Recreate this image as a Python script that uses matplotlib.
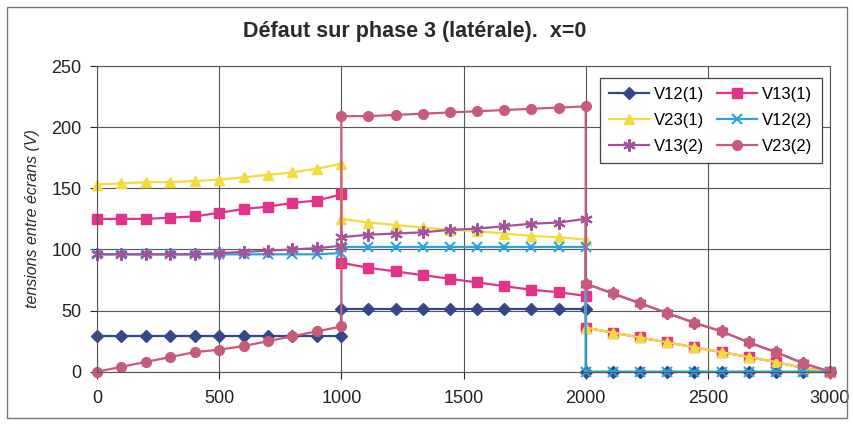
import matplotlib.pyplot as plt
from matplotlib.patches import Rectangle

# x positions: three segments, jump at 1000 and 2000
x = [0, 100, 200, 300, 400, 500, 600, 700, 800, 900, 1000,
     1000, 1111, 1222, 1333, 1444, 1556, 1667, 1778, 1889, 2000,
     2000, 2111, 2222, 2333, 2444, 2556, 2667, 2778, 2889, 3000]

v12_1 = [29, 29, 29, 29, 29, 29, 29, 29, 29, 29, 29,
         51, 51, 51, 51, 51, 51, 51, 51, 51, 51,
         0, 0, 0, 0, 0, 0, 0, 0, 0, 0]
v13_1 = [125, 125, 125, 126, 127, 130, 133, 135, 138, 140, 145,
         89, 85, 82, 79, 76, 73, 70, 67, 65, 62,
         36, 32, 28, 24, 20, 16, 12, 8, 3, 0]
v23_1 = [153, 154, 155, 155, 156, 157, 159, 161, 163, 166, 170,
         125, 122, 120, 118, 116, 115, 113, 111, 110, 108,
         36, 32, 28, 24, 20, 16, 12, 8, 3, 0]
v12_2 = [96, 96, 96, 96, 96, 96, 96, 96, 96, 96, 97,
         102, 102, 102, 102, 102, 102, 102, 102, 102, 102,
         0, 0, 0, 0, 0, 0, 0, 0, 0, 0]
v13_2 = [96, 96, 96, 96, 96, 97, 98, 99, 100, 101, 103,
         110, 112, 113, 114, 116, 117, 119, 121, 122, 125,
         72, 64, 56, 48, 40, 33, 24, 16, 7, 0]
v23_2 = [0, 4, 8, 12, 16, 18, 21, 25, 29, 33, 37,
         209, 209, 210, 211, 212, 213, 214, 215, 216, 217,
         72, 64, 56, 48, 40, 33, 24, 16, 7, 0]

ASTER = (6, 2, 0)  # excel-like asterisk
series = [
    ("V12(1)", v12_1, "#34468c", "D", 6),
    ("V13(1)", v13_1, "#e33388", "s", 7),
    ("V23(1)", v23_1, "#f2dc3c", "^", 7),
    ("V12(2)", v12_2, "#2ca3dc", "x", 7),
    ("V13(2)", v13_2, "#a4529c", ASTER, 9),
    ("V23(2)", v23_2, "#c95a7c", "o", 7),
]

plt.rcParams['font.family'] = ["Liberation Sans", "DejaVu Sans"]

fig = plt.figure(figsize=(8.54, 4.25), dpi=100)
fig.patches.append(Rectangle((0.008, 0.016), 0.984, 0.968, transform=fig.transFigure,
                             fill=False, edgecolor="#777777", linewidth=1.0))
ax = fig.add_axes([0.1136, 0.1254, 0.8583, 0.7193])

lines = {}
for name, vals, col, mk, ms in series:
    if mk in ("x", ASTER):
        l, = ax.plot(x, vals, color=col, marker=mk, markersize=ms, linewidth=1.6,
                     markeredgewidth=1.5, label=name, clip_on=False)
    else:
        l, = ax.plot(x, vals, color=col, marker=mk, markersize=ms, linewidth=1.6,
                     markeredgecolor=col, label=name, clip_on=False)
    lines[name] = l

ax.set_xlim(0, 3000)
ax.set_ylim(0, 250)
ax.set_xticks([0, 500, 1000, 1500, 2000, 2500, 3000])
ax.set_yticks([0, 50, 100, 150, 200, 250])
ax.grid(True, color="#555555", linewidth=0.8)
ax.set_axisbelow(True)
for s in ax.spines.values():
    s.set_color("#555555")
    s.set_linewidth(0.8)
ax.tick_params(axis="both", labelsize=13, colors="#222222", length=5, width=0.8)
ax.tick_params(axis="x", pad=8)
ax.tick_params(axis="y", pad=6)

fig.text(415 / 854, 1 - 31 / 425, "Défaut sur phase 3 (latérale).  x=0", fontsize=15.5,
         fontweight="bold", color="#2a2a2a", ha="center", va="center")
ax.set_ylabel("tensions entre écrans (V)", fontsize=11.5, style="italic",
              color="#2a2a2a", labelpad=8)

order = ["V12(1)", "V23(1)", "V13(2)", "V13(1)", "V12(2)", "V23(2)"]
leg = ax.legend([lines[n] for n in order], order, ncol=2, loc="upper right",
                bbox_to_anchor=(0.989, 0.961), borderaxespad=0, fontsize=12,
                frameon=True, fancybox=False, edgecolor="#444444", framealpha=1,
                handlelength=2.4, columnspacing=0.8, borderpad=0.55,
                labelspacing=0.65, handletextpad=0.3)
leg.get_frame().set_linewidth(0.9)

plt.savefig("out.png", dpi=100)
